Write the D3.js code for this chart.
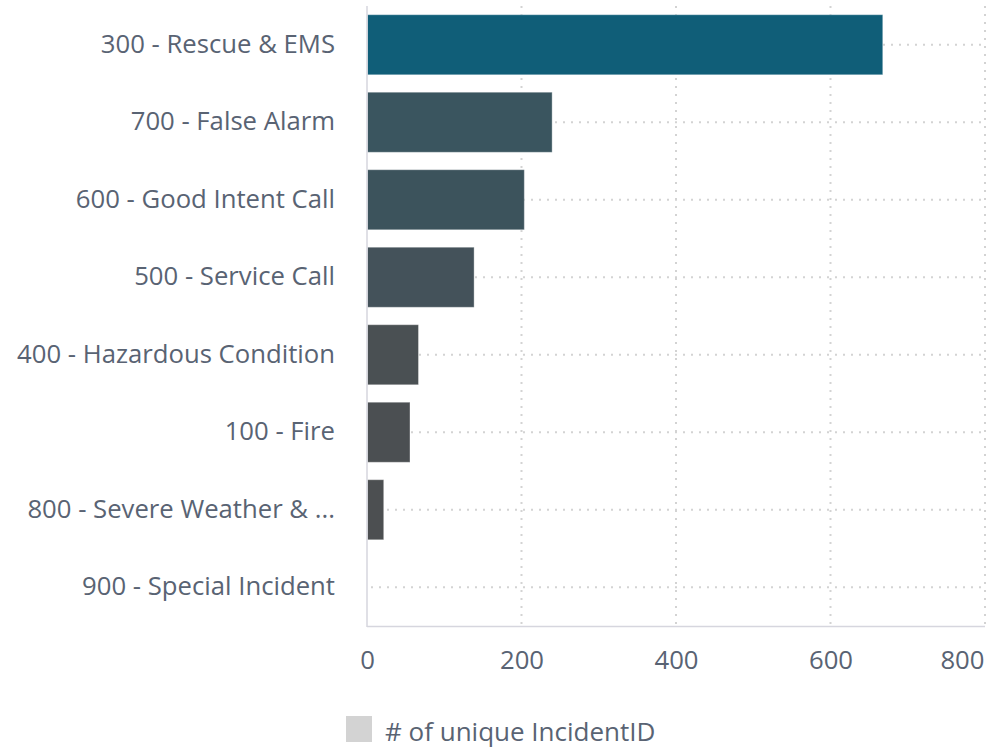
<!DOCTYPE html>
<html><head><meta charset="utf-8">
<script src="https://cdn.jsdelivr.net/npm/d3@7"></script>
<style>body{margin:0;background:#fff;} svg{display:block;font-family:"Open Sans",sans-serif;}</style>
</head><body>
<svg id="c" width="1008" height="750"></svg>
<script>
const categories = ["300 - Rescue & EMS","700 - False Alarm","600 - Good Intent Call","500 - Service Call","400 - Hazardous Condition","100 - Fire","800 - Severe Weather & ...","900 - Special Incident"];
const values = [667, 239, 203, 138, 66, 55, 21, 0];
const barColors = ["#105e78","#3a555f","#3c535c","#44525a","#4a5053","#4b4f52","#4c4f51","#4d4f50"];
const xTicks = [0, 200, 400, 600, 800];
const legendLabel = "# of unique IncidentID";

const svg = d3.select("#c");
const m = {left: 367, right: 985, top: 6, bottom: 626};
const x = d3.scaleLinear().domain([0, 800]).range([m.left, m.right]);
const y = d3.scaleBand().domain(categories).range([m.top, m.bottom]).paddingInner(0.225).paddingOuter(0.1125);
const textColor = "#596373";
const gridColor = "#d3d3d3";
const fs = 25.7;

// vertical grid
svg.append("g").selectAll("line").data(xTicks.filter(d => d > 0)).join("line")
  .attr("x1", d => x(d)).attr("x2", d => x(d))
  .attr("y1", m.top).attr("y2", m.bottom)
  .attr("stroke", gridColor).attr("stroke-width", 2).attr("stroke-dasharray", "2,6");
// horizontal grid
svg.append("g").selectAll("line").data(categories).join("line")
  .attr("x1", m.left + 4).attr("x2", m.right - 4)
  .attr("y1", d => y(d) + y.bandwidth() / 2).attr("y2", d => y(d) + y.bandwidth() / 2)
  .attr("stroke", gridColor).attr("stroke-width", 2).attr("stroke-dasharray", "2,6");

// bars
svg.append("g").selectAll("rect").data(values).join("rect")
  .attr("x", x(0) + 0.5)
  .attr("y", (d, i) => y(categories[i]))
  .attr("width", d => Math.max(0, x(d) - x(0)))
  .attr("height", y.bandwidth())
  .attr("fill", (d, i) => barColors[i])
  .attr("stroke", "#fff").attr("stroke-opacity", 0.35).attr("stroke-width", 1);

// axes lines
svg.append("line").attr("x1", m.left).attr("x2", m.left).attr("y1", m.top).attr("y2", m.bottom + 1)
  .attr("stroke", "#d6d6de").attr("stroke-width", 1.5);
svg.append("line").attr("x1", m.left).attr("x2", m.right).attr("y1", m.bottom + 0.5).attr("y2", m.bottom + 0.5)
  .attr("stroke", "#d6d6de").attr("stroke-width", 1.5);

// x axis labels
const xa = svg.append("g").attr("transform", `translate(0,${m.bottom})`)
  .call(d3.axisBottom(x).tickValues(xTicks).tickSize(0).tickPadding(0));
xa.select(".domain").remove();
xa.selectAll("text").attr("fill", textColor).attr("font-size", fs).attr("font-family", "Open Sans")
  .attr("dy", null).attr("y", 43);
// keep the last label inside the plot's right edge
xa.selectAll(".tick").filter(d => d === xTicks[xTicks.length - 1]).select("text")
  .attr("text-anchor", "end").attr("x", -1);

// y axis labels
const ya = svg.append("g").attr("transform", `translate(${m.left},0)`)
  .call(d3.axisLeft(y).tickSize(0).tickPadding(32));
ya.select(".domain").remove();
ya.selectAll("text").attr("fill", textColor).attr("font-size", fs).attr("font-family", "Open Sans");

// legend
svg.append("rect").attr("x", 346).attr("y", 716).attr("width", 26).attr("height", 26).attr("fill", "#d3d3d3");
svg.append("text").attr("x", 385).attr("y", 741).attr("fill", textColor).attr("font-size", 26).text(legendLabel);
</script>
</body></html>
